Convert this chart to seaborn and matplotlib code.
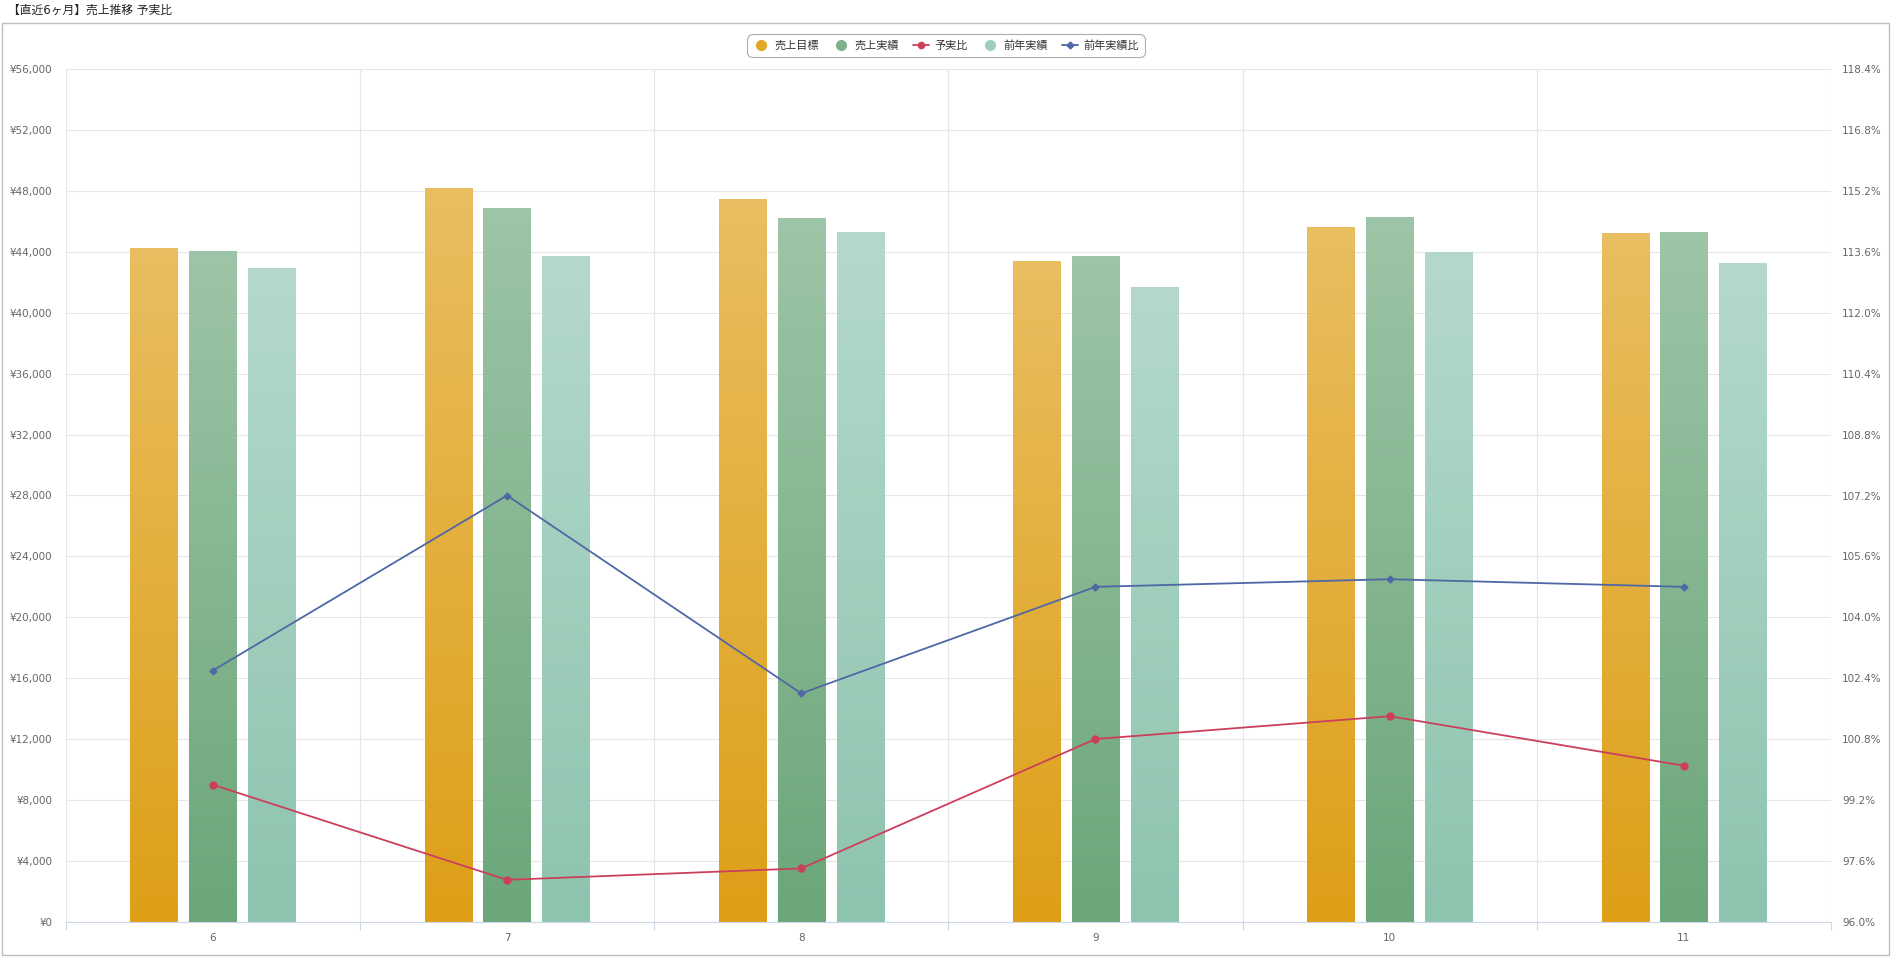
import numpy as np
import pandas as pd
import matplotlib
matplotlib.use('Agg')
import matplotlib.pyplot as plt
import seaborn as sns
from matplotlib.lines import Line2D
from matplotlib.patches import Rectangle
from matplotlib.colors import LinearSegmentedColormap
from matplotlib.ticker import FuncFormatter, FixedLocator

# ---------------- data ----------------
months = ['6', '7', '8', '9', '10', '11']
target = [44270, 48230, 47480, 43410, 45620, 45270]        # 売上目標
actual = [44090, 46870, 46230, 43740, 46280, 45310]        # 売上実績
prev_year = [42970, 43740, 45330, 41720, 44020, 43250]     # 前年実績
budget_ratio = [99.6, 97.1, 97.4, 100.8, 101.4, 100.1]     # 予実比 (%)
yoy_ratio = [102.6, 107.2, 102.0, 104.8, 105.0, 104.8]     # 前年実績比 (%)

bar_names = ['売上目標', '売上実績', '前年実績']
line_names = ['予実比', '前年実績比']
title = '【直近6ヶ月】売上推移 予実比'
left_ticks = list(range(0, 56001, 4000))
right_ticks = [96.0 + 1.6 * i for i in range(15)]

# ---------------- style ----------------
sns.set_style('white')
plt.rcParams['font.family'] = ['DejaVu Sans', 'Noto Sans CJK JP']

bar_top = ['#E8BE60', '#9DC5A7', '#B4D9CB']
bar_bot = ['#DE9F17', '#6BA67A', '#8DC4AE']
red = '#CC3F5C'
blue = '#4F67A6'
grid_c = '#E6E6E6'
axis_c = '#CCD6EB'
label_c = '#666666'

W, H = 1893, 964
fig = plt.figure(figsize=(W / 100, H / 100), dpi=100)
ax = fig.add_axes([65.7 / W, 1 - 921.7 / H, (1831 - 65.7) / W, (921.7 - 69.3) / H])

df = pd.DataFrame({
    'month': months * 3,
    'series': [bar_names[0]] * 6 + [bar_names[1]] * 6 + [bar_names[2]] * 6,
    'value': target + actual + prev_year,
})
sns.barplot(data=df, x='month', y='value', hue='series', hue_order=bar_names,
            order=months, palette=bar_bot, width=0.6, gap=0.2, saturation=1,
            legend=False, ax=ax, zorder=2, edgecolor='none', linewidth=0)

# gradient fill on each bar
grad = np.linspace(0, 1, 256).reshape(-1, 1)
bars = [p for p in ax.patches if isinstance(p, Rectangle)]
for i, p in enumerate(bars):
    k = i // len(months)
    cmap = LinearSegmentedColormap.from_list('g%d' % k, [bar_top[k], bar_bot[k]])
    x0, y0 = p.get_x(), p.get_y()
    w, h = p.get_width(), p.get_height()
    im = ax.imshow(grad, extent=[x0, x0 + w, y0, y0 + h], origin='upper',
                   aspect='auto', cmap=cmap, zorder=2.1)
    im.set_clip_path(p)
    p.set_facecolor('none')
    p.set_edgecolor('none')

ax.set_xlim(-0.5, len(months) - 0.5)
ax.set_ylim(0, 56000)

# ---------------- ratio lines ----------------
ax2 = ax.twinx()
sns.pointplot(x=months, y=budget_ratio, order=months, ax=ax2, color=red,
              markers='o', markersize=5, linewidth=1.3, errorbar=None)
sns.pointplot(x=months, y=yoy_ratio, order=months, ax=ax2, color=blue,
              markers='D', markersize=3.5, linewidth=1.3, errorbar=None)
ax2.set_ylim(96.0, 118.4)
ax.set_xlim(-0.5, len(months) - 0.5)

# ---------------- axes styling ----------------
ax.set_xticks(range(len(months)))
ax.set_xticklabels(months)
ax.xaxis.set_minor_locator(FixedLocator(np.arange(-0.5, len(months), 1.0)))
ax.set_yticks(left_ticks)
ax.yaxis.set_major_formatter(FuncFormatter(lambda v, _: '¥{:,.0f}'.format(v)))
ax2.set_yticks(right_ticks)
ax2.yaxis.set_major_formatter(FuncFormatter(lambda v, _: '{:.1f}%'.format(v)))

ax.grid(True, which='major', axis='y', color=grid_c, linewidth=0.8)
ax.grid(True, which='minor', axis='x', color=grid_c, linewidth=0.8)
ax.grid(False, which='major', axis='x')
ax2.grid(False)
ax.set_axisbelow(True)

for s in ['top', 'left', 'right']:
    ax.spines[s].set_visible(False)
    ax2.spines[s].set_visible(False)
ax2.spines['bottom'].set_visible(False)
ax.spines['bottom'].set_color(axis_c)
ax.spines['bottom'].set_linewidth(0.8)

ax.tick_params(axis='x', which='major', length=0, pad=8, labelsize=7.5, labelcolor=label_c)
ax.tick_params(axis='x', which='minor', length=6, width=0.8, color=axis_c, bottom=True)
ax.tick_params(axis='y', length=0, pad=9.5, labelsize=7.5, labelcolor=label_c)
ax2.tick_params(axis='y', length=0, pad=8, labelsize=7.5, labelcolor=label_c)
ax.set_xlabel('')
ax.set_ylabel('')
ax2.set_xlabel('')
ax2.set_ylabel('')
ax2.patch.set_visible(False)

# ---------------- legend ----------------
handles = [
    Line2D([], [], marker='o', linestyle='none', markersize=7, color='#E2A62B'),
    Line2D([], [], marker='o', linestyle='none', markersize=7, color='#7FB28B'),
    Line2D([], [], marker='o', color=red, markersize=4.5, linewidth=1.3),
    Line2D([], [], marker='o', linestyle='none', markersize=7, color='#9FCFBC'),
    Line2D([], [], marker='D', color=blue, markersize=3.5, linewidth=1.3),
]
labels = [bar_names[0], bar_names[1], line_names[0], bar_names[2], line_names[1]]
leg = fig.legend(handles, labels, loc='center', bbox_to_anchor=(946 / W, 1 - 45.8 / H),
                 ncol=5, frameon=True, fancybox=True, fontsize=8,
                 handlelength=1.4, handletextpad=0.5, columnspacing=1.3,
                 borderpad=0.45, labelcolor='#333333')
frame = leg.get_frame()
frame.set_edgecolor('#999999')
frame.set_linewidth(0.8)
frame.set_boxstyle('round,pad=0.1,rounding_size=0.5')

# ---------------- title & panel ----------------
fig.text(8 / W, 1 - 10 / H, title, fontsize=8.5, color='#222222', va='center', ha='left')
fig.patches.append(Rectangle((2 / W, 1 - 955 / H), (1889 - 2) / W, (955 - 23) / H,
                             transform=fig.transFigure, fill=False,
                             edgecolor='#BFBFBF', linewidth=1))

fig.savefig('out.png', dpi=100)
